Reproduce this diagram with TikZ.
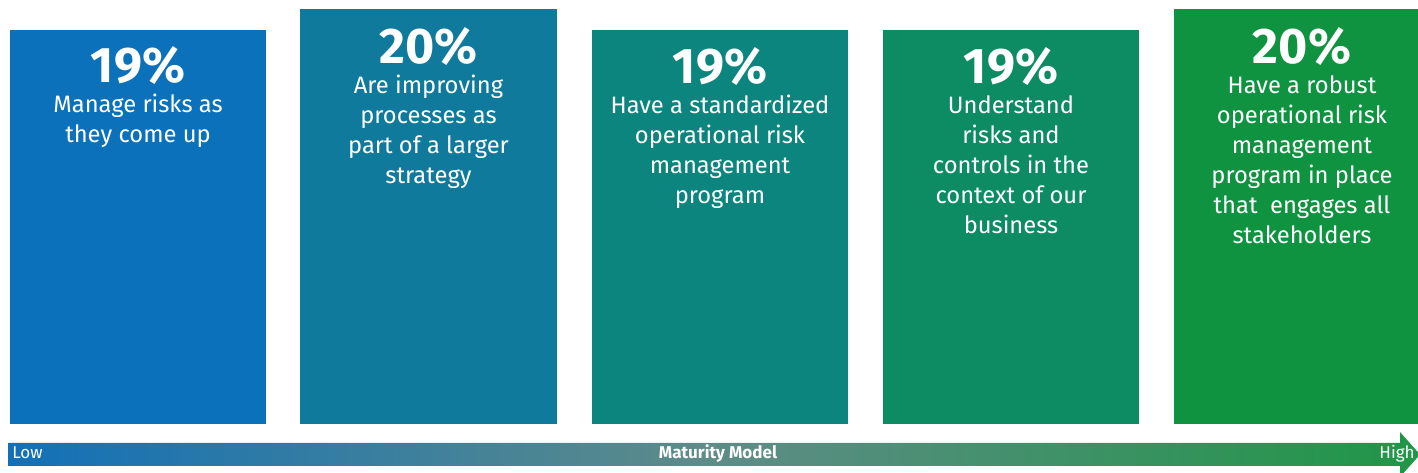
\documentclass[tikz,border=0pt]{standalone}
\usepackage{fontspec}
\setmainfont{Fira Sans}
\definecolor{cA}{HTML}{0B71BA}
\definecolor{cB}{HTML}{0F7A9B}
\definecolor{cC}{HTML}{0C857E}
\definecolor{cD}{HTML}{0D8C63}
\definecolor{cE}{HTML}{109341}
\definecolor{barL}{HTML}{1270B8}
\definecolor{barM}{HTML}{5E8C88}
\definecolor{barR}{HTML}{1F9646}
\begin{document}
\begin{tikzpicture}[x=0.75pt,y=-0.75pt,
  lbl/.style={text=white, align=center, inner sep=0pt, anchor=base, font=\fontsize{17.8}{22.5}\selectfont},
  axislbl/.style={text=white, inner sep=0pt, font=\fontsize{12.8}{14}\selectfont}]
\useasboundingbox (0,0) rectangle (1418,473);
% boxes
\fill[cA] (10,30) rectangle (266,424);
\fill[cB] (300,9) rectangle (557,424);
\fill[cC] (592,30) rectangle (848,424);
\fill[cD] (883,30) rectangle (1139,424);
\fill[cE] (1174,9) rectangle (1430,424);
% texts (anchor base = baseline of the last line)
\node[lbl] (t1) at (138,143) {{\fontsize{37.5}{22.5}\selectfont\bfseries 19\%}\\Manage risks as\\they come up};
\node[lbl] (t2) at (428.5,184) {{\fontsize{37.5}{22.5}\selectfont\bfseries 20\%}\\Are improving\\processes as\\part of a larger\\strategy};
\node[lbl] (t3) at (720,204) {{\fontsize{37.5}{22.5}\selectfont\bfseries 19\%}\\Have a standardized\\operational risk\\management\\program};
\node[lbl] (t4) at (1011,234) {{\fontsize{37.5}{22.5}\selectfont\bfseries 19\%}\\Understand\\risks and\\controls in the\\context of our\\business};
\node[lbl] (t5) at (1302,244) {{\fontsize{37.5}{22.5}\selectfont\bfseries 20\%}\\Have a robust\\operational risk\\management\\program in place\\that\ \ engages all\\stakeholders};
% maturity arrow
\shade[left color=barL, right color=barR, middle color=barM]
  (8,443) -- (1400,443) -- (1400,432) -- (1420,454.5) -- (1400,477) -- (1400,466) -- (8,466) -- cycle;
\node[axislbl, anchor=base west] (low) at (12,459) {Low};
\node[axislbl, anchor=base, font=\fontsize{12.8}{14}\selectfont\bfseries] (mm) at (718,459) {Maturity Model};
\node[axislbl, anchor=base east] (high) at (1415,459) {High};
\end{tikzpicture}
\end{document}
